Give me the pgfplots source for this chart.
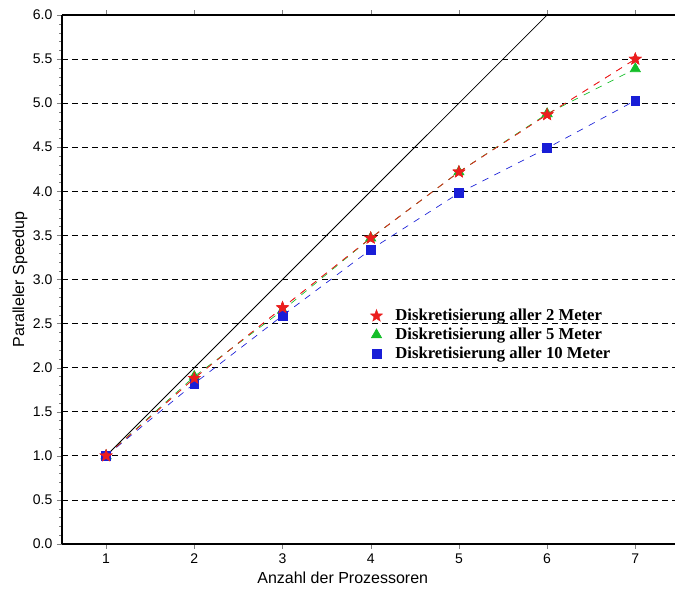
\documentclass[border=0pt]{standalone}
\usepackage{pgfplots}
\pgfplotsset{compat=1.18}
\usepackage{fontspec}
\setmainfont{Liberation Sans}
\newfontfamily\legfont{Liberation Serif}
\definecolor{cred}{RGB}{235,30,30}
\definecolor{cgreen}{RGB}{20,190,40}
\definecolor{cblue}{RGB}{25,30,215}

% gefuellter Stern
\pgfdeclareplotmark{fstar}{%
  \pgfpathmoveto{\pgfpointpolar{90}{\pgfplotmarksize}}%
  \pgfpathlineto{\pgfpointpolar{126}{0.42\pgfplotmarksize}}%
  \pgfpathlineto{\pgfpointpolar{162}{\pgfplotmarksize}}%
  \pgfpathlineto{\pgfpointpolar{198}{0.42\pgfplotmarksize}}%
  \pgfpathlineto{\pgfpointpolar{234}{\pgfplotmarksize}}%
  \pgfpathlineto{\pgfpointpolar{270}{0.42\pgfplotmarksize}}%
  \pgfpathlineto{\pgfpointpolar{306}{\pgfplotmarksize}}%
  \pgfpathlineto{\pgfpointpolar{342}{0.42\pgfplotmarksize}}%
  \pgfpathlineto{\pgfpointpolar{18}{\pgfplotmarksize}}%
  \pgfpathlineto{\pgfpointpolar{54}{0.42\pgfplotmarksize}}%
  \pgfpathclose
  \pgfusepathqfillstroke
}

\begin{document}
\begin{tikzpicture}
\path[use as bounding box] (-46.5pt,-36pt) rectangle (459.75pt,408pt);
\begin{axis}[
    scale only axis,
    width=459.75pt,
    height=396.75pt,
    xmin=0.5, xmax=7.45,
    ymin=0, ymax=6,
    axis x line=box,
    axis y line=left,
    axis line style={-, line width=0.8pt},
    tick align=outside,
    major tick length=3.75pt,
    minor tick length=2pt,
    xtick={1,2,3,4,5,6,7},
    ytick={0,0.5,...,6},
    minor y tick num=4,
    ymajorgrids,
    major grid style={black, dash pattern=on 4.5pt off 3pt, line width=0.6pt},
    /pgf/number format/assume math mode=true,
    yticklabel style={/pgf/number format/.cd, fixed, fixed zerofill, precision=1},
    tick label style={font=\fontsize{10.5}{12}\selectfont},
    xlabel={Anzahl der Prozessoren},
    ylabel={Paralleler Speedup},
    label style={font=\fontsize{12}{14}\selectfont},
    xlabel style={at={(axis description cs:0.458,0)}, anchor=center, yshift=-25.5pt},
    ylabel style={at={(axis description cs:-0.0685,0.5)}, anchor=center},
    legend style={at={(0.5,0.452)}, anchor=north west, draw=none, fill=none,
        font=\legfont\bfseries\fontsize{12.5}{14}\selectfont,
        row sep=0pt, inner sep=1pt},
    legend cell align=left,
    legend image code/.code={%
        \path (-0.16cm,0cm) (0.42cm,0cm);
        \draw[#1, only marks] plot coordinates {(0cm,0cm)};},
    every axis plot/.append style={line width=0.5pt, dash pattern=on 5pt off 5pt},
]
\addplot[black, line width=0.6pt, solid, forget plot] coordinates {(1,1) (6,6)};

\addplot[cred, mark=fstar, mark size=4.8pt,
    mark options={solid, fill=cred, draw=cred, line width=0.3pt}] coordinates {
    (1,1.00) (2,1.88) (3,2.68) (4,3.47) (5,4.22) (6,4.87) (7,5.50)};
\addplot[cgreen, mark=triangle*, mark size=4.4pt,
    mark options={solid}] coordinates {
    (1,1.00) (2,1.90) (3,2.65) (4,3.47) (5,4.22) (6,4.88) (7,5.39)};
\addplot[cblue, mark=square*, mark size=3.3pt,
    mark options={solid}] coordinates {
    (1,1.00) (2,1.82) (3,2.59) (4,3.34) (5,3.98) (6,4.49) (7,5.03)};
% rote Reihe nochmal oben drauf
\addplot[cred, mark=fstar, mark size=4.8pt, forget plot,
    mark options={solid, fill=cred, draw=cred, line width=0.3pt}] coordinates {
    (1,1.00) (2,1.88) (3,2.68) (4,3.47) (5,4.22) (6,4.87) (7,5.50)};
\legend{Diskretisierung aller 2 Meter, Diskretisierung aller 5 Meter, Diskretisierung aller 10 Meter}
\end{axis}
\end{tikzpicture}
\end{document}
